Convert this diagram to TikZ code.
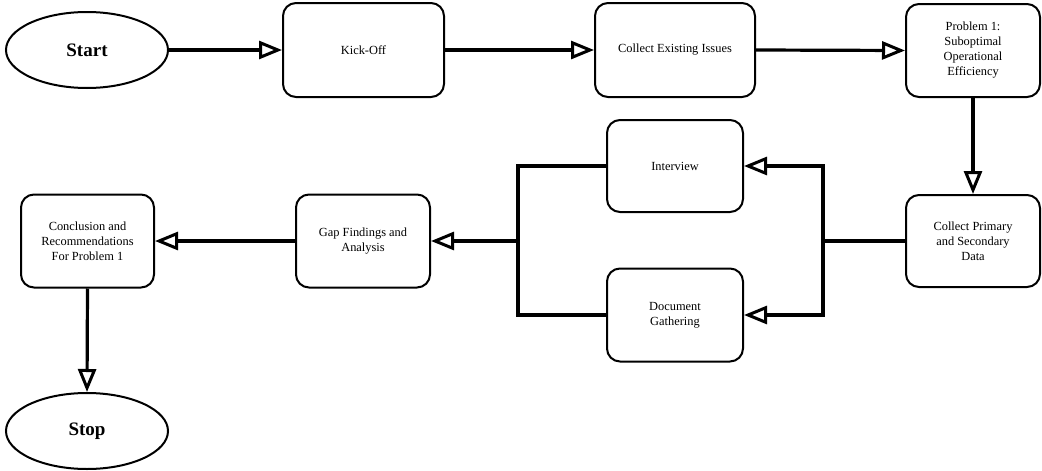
\documentclass[tikz,border=0pt]{standalone}
\usepackage{fontspec}
\setmainfont{Liberation Serif}
\usetikzlibrary{shapes.geometric,arrows.meta}
\begin{document}
\begin{tikzpicture}[x=1pt,y=-1pt,
  stepbox/.style={draw,line width=2pt,rounded corners=13pt,align=center,
    font=\fontsize{12.4}{15}\selectfont,inner sep=2pt},
  terminal/.style={draw,ellipse,line width=2pt,minimum width=162pt,minimum height=76pt,
    inner sep=0pt,font=\fontsize{19}{22}\selectfont\bfseries},
  link/.style={line width=3.2pt},
  arr/.style={line width=3.2pt,-{Triangle[open,length=23pt,width=18pt,line width=3pt]}}]
\useasboundingbox (0,0) rectangle (1042,471);
% process steps
\node[terminal] (start) at (87,50) {Start};
\node[stepbox,minimum width=161pt,minimum height=94pt] (kick) at (363.5,50) {Kick-Off};
\node[stepbox,minimum width=160pt,minimum height=94pt] (issues) at (675,50) {Collect Existing Issues};
\node[stepbox,minimum width=134pt,minimum height=93pt] (prob) at (973,50.5) {Problem 1:\\Suboptimal\\Operational\\Efficiency};
\node[stepbox,minimum width=134pt,minimum height=92pt] (data) at (973,241) {Collect Primary\\and Secondary\\Data};
\node[stepbox,minimum width=136pt,minimum height=92pt] (interview) at (675,166) {Interview};
\node[stepbox,minimum width=136pt,minimum height=93pt] (docs) at (675,315) {Document\\Gathering};
\node[stepbox,minimum width=134pt,minimum height=93pt] (gap) at (363,241) {Gap Findings and\\Analysis};
\node[stepbox,minimum width=133pt,minimum height=93pt] (concl) at (87.5,241) {Conclusion and\\Recommendations\\For Problem 1};
\node[terminal] (stop) at (87,431) {Stop};
% branch points
\coordinate (split) at (823,241);
\coordinate (merge) at (518,241);
% connectors
\draw[arr] (start.east) -- (kick.west);
\draw[arr] (kick.east) -- (issues.west);
\draw[arr] (issues.east) -- (prob.west);
\draw[arr] (prob.south) -- (data.north);
\draw[link] (data.west) -- (split);
\draw[arr] (split) |- (interview.east);
\draw[arr] (split) |- (docs.east);
\draw[link] (interview.west) -| (merge);
\draw[link] (docs.west) -| (merge);
\draw[arr] (merge) -- (gap.east);
\draw[arr] (gap.west) -- (concl.east);
\draw[arr] (concl.south) -- (stop.north);
\end{tikzpicture}
\end{document}
